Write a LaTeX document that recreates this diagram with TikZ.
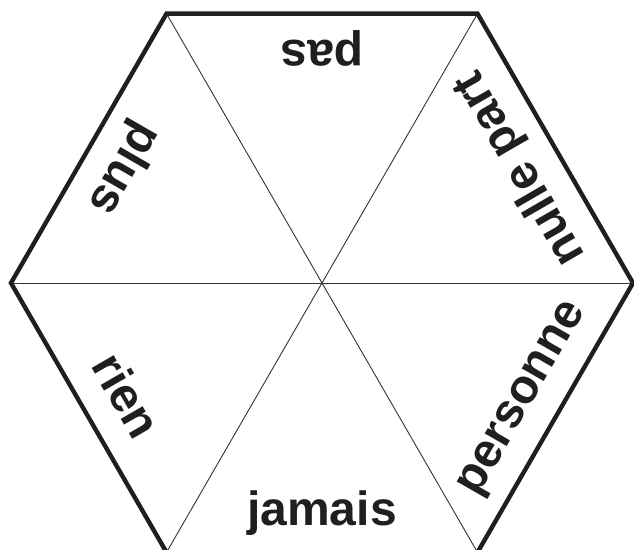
\documentclass[tikz,border=0pt]{standalone}
\usepackage{fontspec}
\setmainfont{Liberation Sans}
\usetikzlibrary{calc}
\begin{document}
\begin{tikzpicture}[x=1pt,y=1pt,
  rim/.style={line width=4.4pt,line join=miter,draw=black!88},
  spoke/.style={line width=0.9pt,draw=black!80},
  word/.style={anchor=base,inner sep=0pt,text=black!88,font=\fontsize{48}{48}\selectfont\bfseries}]
\useasboundingbox (0,0) rectangle (634,549);
\clip (0,0) rectangle (634,549);
\coordinate (C) at (322,266);
\foreach \i/\a in {0/0,1/60,2/120,3/180,4/240,5/300}
  \coordinate (V\i) at ($(C)+(\a:311)$);
\draw[spoke] (V0) -- (V3);
\draw[spoke] (V1) -- (V4);
\draw[spoke] (V2) -- (V5);
\draw[rim] (V0) -- (V1) -- (V2) -- (V3) -- (V4) -- (V5) -- cycle;
\node[word,rotate=0]   (w1) at ($(C)+(270:242)$) {jamais};
\node[word,rotate=180] (w2) at ($(C)+(90:242)$)  {pas};
\node[word,rotate=240] (w3) at ($(C)+(150:242)$) {plus};
\node[word,rotate=120] (w4) at ($(C)+(30:242)$)  {nulle part};
\node[word,rotate=300] (w5) at ($(C)+(210:242)$) {rien};
\node[word,rotate=60]  (w6) at ($(C)+(330:242)$) {personne};
\end{tikzpicture}
\end{document}
